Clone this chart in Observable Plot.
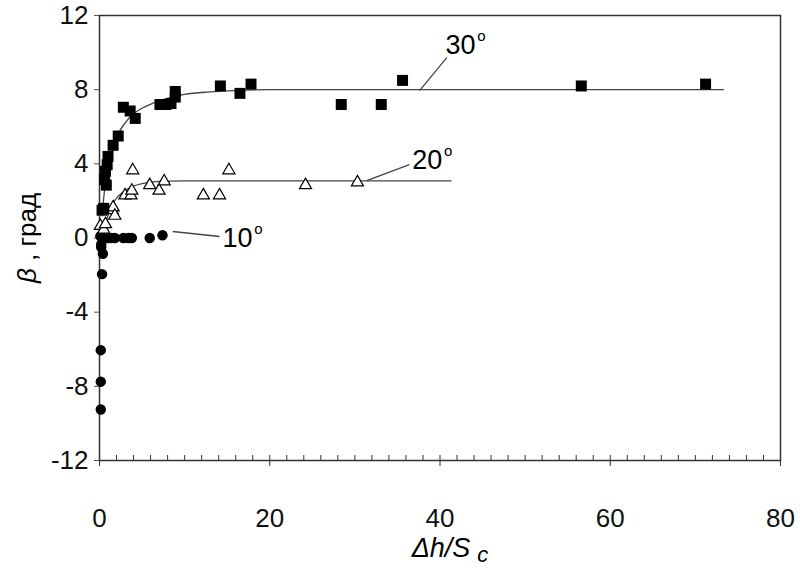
<!DOCTYPE html>
<html>
<head>
<meta charset="utf-8">
<script src="https://cdn.jsdelivr.net/npm/d3@7"></script>
<script src="https://cdn.jsdelivr.net/npm/@observablehq/plot@0.6"></script>
<style>
  html, body { margin: 0; padding: 0; background: #fff; }
  #chart svg { display: block; }
</style>
</head>
<body>
<div id="chart"></div>
<script>
// 30° series (filled squares)
const sq30x = [0.3, 0.5, 0.6, 0.8, 0.7, 0.9, 1.0, 1.6, 2.2, 2.8, 3.6, 4.2, 7.1, 7.8, 8.4, 8.9, 8.9, 14.2, 16.5, 17.8, 28.4, 33.1, 35.6, 56.6, 71.2];
const sq30y = [1.5, 1.6, 3.15, 2.85, 3.6, 3.95, 4.4, 5.0, 5.5, 7.05, 6.85, 6.45, 7.2, 7.2, 7.25, 7.6, 7.9, 8.2, 7.8, 8.3, 7.2, 7.2, 8.5, 8.2, 8.3];
// 20° series (open triangles)
const tr20x = [0.1, 0.5, 0.7, 1.5, 1.6, 1.8, 3.0, 3.7, 3.8, 3.9, 5.9, 7.0, 7.6, 12.2, 14.1, 15.2, 24.2, 30.3];
const tr20y = [0.65, 0.45, 0.75, 1.5, 1.65, 1.2, 2.3, 2.3, 2.55, 3.65, 2.85, 2.55, 3.05, 2.3, 2.3, 3.65, 2.85, 3.0];
// 10° series (filled circles)
const ci10x = [0.1, 0.3, 0.5, 1.0, 1.4, 1.8, 2.8, 3.4, 3.8, 5.9, 7.4, 0.2, 0.2, 0.4, 0.3, 0.15, 0.15, 0.15];
const ci10y = [0.1, 0.0, 0.0, 0.0, 0.0, 0.0, 0.0, 0.0, 0.0, 0.0, 0.15, -0.35, -0.5, -0.85, -1.95, -6.05, -7.75, -9.25];
// fitted curves
const c30x = [0.3, 0.6, 1, 1.5, 2.2, 3, 4, 5, 7, 10, 13, 16, 20, 30, 50, 73.3];
const c30y = [1.2, 2.6, 3.7, 4.6, 5.6, 6.2, 6.7, 7.0, 7.4, 7.75, 7.88, 7.95, 8.0, 8.0, 8.0, 8.0];
const c20x = [0.5, 1.0, 1.5, 2.2, 3, 4, 5, 7, 10, 20, 41.3];
const c20y = [0.5, 1.2, 1.8, 2.25, 2.55, 2.8, 2.93, 3.05, 3.08, 3.08, 3.08];
// tick values
const xTicks = [0, 20, 40, 60, 80];
const xMinor = d3.range(0, 81, 2);
const yTicks = [-12, -8, -4, 0, 4, 8, 12];
// annotations
const annLabels = ["30", "20", "10"];
const annX = [42.4, 38.5, 16.2];
const annY = [10.4, 4.18, -0.03];
const leadX1 = [37.6, 31.4, 8.6];
const leadY1 = [7.95, 3.1, 0.35];
const leadX2 = [40.8, 36.4, 14.1];
const leadY2 = [9.73, 3.96, 0.08];

const zip = (xs, ys) => xs.map((x, i) => ({x, y: ys[i]}));
const s30 = zip(sq30x, sq30y), t20 = zip(tr20x, tr20y), c10 = zip(ci10x, ci10y);
const l30 = zip(c30x, c30y), l20 = zip(c20x, c20y);
const ann = annLabels.map((t, i) => ({t, x: annX[i], y: annY[i], x1: leadX1[i], y1: leadY1[i], x2: leadX2[i], y2: leadY2[i]}));

const font = "'Liberation Sans', Arial, sans-serif";
const chart = Plot.plot({
  width: 800, height: 568,
  marginLeft: 99, marginRight: 20, marginTop: 15, marginBottom: 108,
  style: {fontFamily: font, fontSize: "26px", color: "#111", background: "#fff"},
  x: {domain: [0, 80]},
  y: {domain: [-12, 12]},
  marks: [
    Plot.frame({stroke: "#333", strokeWidth: 1.5}),
    Plot.axisX({ticks: xMinor, tickSize: -5, tickFormat: () => "", label: null, stroke: "#333"}),
    Plot.axisX({ticks: xTicks, tickSize: 6, tickPadding: 42, tickFormat: d => String(d), label: null, stroke: "#333"}),
    Plot.axisY({ticks: yTicks, tickSize: 5, tickPadding: 6, tickFormat: d => String(d), label: null, stroke: "#555"}),
    Plot.line(l30, {x: "x", y: "y", stroke: "#444", strokeWidth: 1.3, curve: "monotone-x"}),
    Plot.line(l20, {x: "x", y: "y", stroke: "#444", strokeWidth: 1.3, curve: "monotone-x"}),
    Plot.link(ann, {x1: "x1", y1: "y1", x2: "x2", y2: "y2", stroke: "#444", strokeWidth: 1.3}),
    Plot.dot(c10, {x: "x", y: "y", r: 5.2, fill: "#000", stroke: "none"}),
    Plot.dot(t20, {x: "x", y: "y", r: 4.5, symbol: "triangle", fill: "#fff", stroke: "#000", strokeWidth: 1.2}),
    Plot.dot(s30, {x: "x", y: "y", r: 6.2, symbol: "square", fill: "#000", stroke: "none"}),
    Plot.text(ann, {x: "x", y: "y", text: "t", fontSize: 27, fill: "#000", textAnchor: "middle"}),
    Plot.text(ann, {x: "x", y: "y", text: () => "o", fontSize: 15, fill: "#000", dx: 21, dy: -9})
  ]
});
document.getElementById("chart").appendChild(chart);

// axis titles with italic / subscript parts
const svg = d3.select(chart);
const xt = svg.append("text")
  .attr("x", 450).attr("y", 557)
  .attr("text-anchor", "middle")
  .attr("font-family", font).attr("font-size", 27).attr("font-style", "italic").attr("fill", "#000");
xt.append("tspan").text("Δh/S");
xt.append("tspan").attr("dx", 7).attr("dy", 5).attr("font-size", 22).text("c");

const yt = svg.append("text")
  .attr("transform", "translate(36,238) rotate(-90)")
  .attr("text-anchor", "middle")
  .attr("font-family", font).attr("font-size", 26).attr("fill", "#000");
yt.append("tspan").attr("font-style", "italic").text("β");
yt.append("tspan").text(" , град");
</script>
</body>
</html>
